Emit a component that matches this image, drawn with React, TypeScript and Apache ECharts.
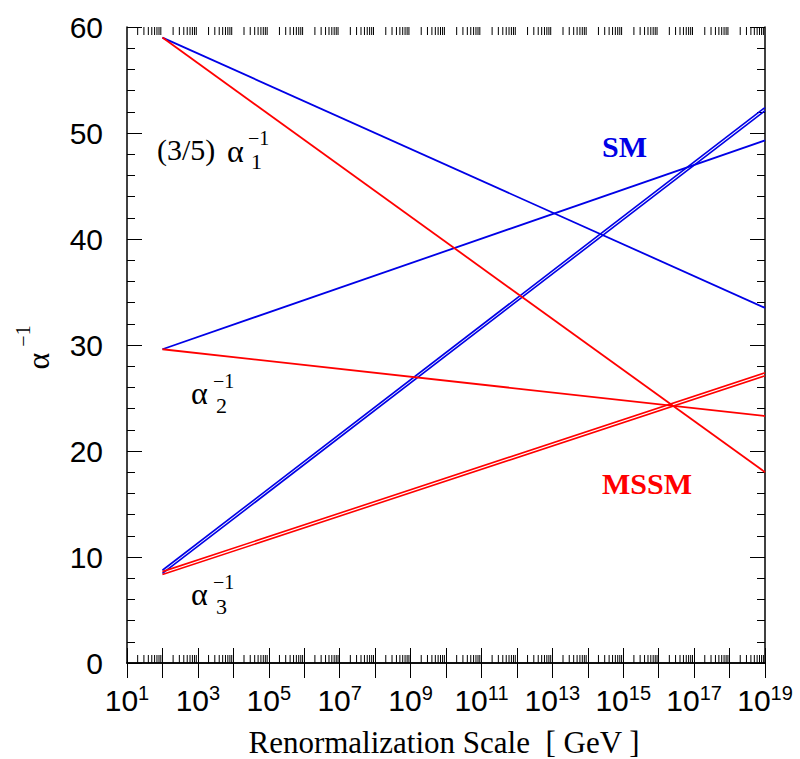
import React, { useEffect, useRef } from 'react';
import * as echarts from 'echarts';

// x values are log10(Renormalization Scale / GeV)
const xEnds = [2, 19];
const smAlpha1 = [59.0, 33.5];
const smAlpha2 = [29.6, 49.3];
const smAlpha3Upper = [8.75, 52.4];
const smAlpha3Lower = [8.45, 52.1];
const mssmAlpha1 = [59.0, 18.0];
const mssmAlpha2 = [29.6, 23.3];
const mssmAlpha3Upper = [8.62, 27.38];
const mssmAlpha3Lower = [8.34, 27.1];

const xMinExp = 1;
const xMaxExp = 19;
const xLabelExps = [1, 3, 5, 7, 9, 11, 13, 15, 17, 19];
const yMin = 0;
const yMax = 60;
const yStep = 10;
const mantissas = [2, 3, 4, 5, 6, 7, 8, 9];

const BLUE = '#0000e6';
const RED = '#ff0000';
const SANS = "'Liberation Sans', Arial, sans-serif";
const SERIF = "'Liberation Serif', 'Times New Roman', serif";

const minorTickPositions: number[] = [];
for (let d = xMinExp; d < xMaxExp; d++) {
  for (const m of mantissas) minorTickPositions.push(d + Math.log10(m));
}

const pairs = (ys: number[]) => xEnds.map((x, i) => [x, ys[i]]);

export default function App() {
  const ref = useRef<HTMLDivElement>(null);
  useEffect(() => {
    if (!ref.current) return;
    const chart = echarts.init(ref.current, null, { renderer: 'svg' });
    const lineSeries = (name: string, ys: number[], color: string, width = 1.8) => ({
      name,
      type: 'line',
      data: pairs(ys),
      showSymbol: false,
      symbol: 'none',
      silent: true,
      lineStyle: { color, width },
      xAxisIndex: 0,
      yAxisIndex: 0,
    });
    const xAxisBase = {
      type: 'value',
      min: xMinExp,
      max: xMaxExp,
      interval: 1,
      axisLine: { show: true, lineStyle: { color: '#000', width: 1.5 } },
      axisTick: { show: true, inside: true, length: 15, lineStyle: { color: '#000', width: 1 } },
      splitLine: { show: false },
    };
    const yAxisBase = {
      type: 'value',
      min: yMin,
      max: yMax,
      interval: yStep,
      axisLine: { show: true, lineStyle: { color: '#000', width: 1.5 } },
      axisTick: { show: true, inside: true, length: 15, lineStyle: { color: '#000', width: 1 } },
      minorTick: { show: true, splitNumber: 5, length: 8, lineStyle: { color: '#000', width: 1 } },
      splitLine: { show: false },
      minorSplitLine: { show: false },
    };
    const txt = (text: string, x: number, y: number, size: number, extra: any = {}) => ({
      type: 'text',
      x,
      y,
      style: { text, font: `${size}px ${SERIF}`, fill: '#000', textVerticalAlign: 'middle', lineHeight: size * 0.9, ...extra },
    });
    chart.setOption({
      animation: false,
      backgroundColor: '#fff',
      grid: { left: 127, right: 35, top: 27, bottom: 96, containLabel: false },
      xAxis: [
        {
          ...xAxisBase,
          position: 'bottom',
          axisLabel: {
            show: true,
            margin: 20,
            formatter: (v: number) => (xLabelExps.includes(Math.round(v)) ? `{b|10}{s|${Math.round(v)}}` : ''),
            rich: {
              b: { fontSize: 30, fontFamily: SANS, color: '#000', lineHeight: 34 },
              s: { fontSize: 20, fontFamily: SANS, color: '#000', lineHeight: 20, verticalAlign: 'top' },
            },
          },
        },
        { ...xAxisBase, position: 'top', axisLabel: { show: false } },
      ],
      yAxis: [
        {
          ...yAxisBase,
          position: 'left',
          axisLabel: { show: true, margin: 24, fontSize: 30, fontFamily: SANS, color: '#000' },
        },
        { ...yAxisBase, position: 'right', axisLabel: { show: false } },
      ],
      series: [
        lineSeries('SM α1', smAlpha1, BLUE),
        lineSeries('SM α2', smAlpha2, BLUE),
        lineSeries('SM α3 upper', smAlpha3Upper, BLUE, 1.6),
        lineSeries('SM α3 lower', smAlpha3Lower, BLUE, 1.6),
        lineSeries('MSSM α1', mssmAlpha1, RED),
        lineSeries('MSSM α2', mssmAlpha2, RED),
        lineSeries('MSSM α3 upper', mssmAlpha3Upper, RED, 1.6),
        lineSeries('MSSM α3 lower', mssmAlpha3Lower, RED, 1.6),
        {
          type: 'custom',
          silent: true,
          clip: false,
          xAxisIndex: 0,
          yAxisIndex: 0,
          data: minorTickPositions.map((v) => [v, yMin]),
          encode: { x: 0, y: 1 },
          renderItem: (_p: any, api: any) => {
            const x = api.value(0);
            const b = api.coord([x, yMin]);
            const t = api.coord([x, yMax]);
            return {
              type: 'group',
              children: [
                { type: 'line', shape: { x1: b[0], y1: b[1], x2: b[0], y2: b[1] - 8 }, style: { stroke: '#000', lineWidth: 1 } },
                { type: 'line', shape: { x1: t[0], y1: t[1], x2: t[0], y2: t[1] + 8 }, style: { stroke: '#000', lineWidth: 1 } },
              ],
            };
          },
        },
      ],
      graphic: [
        // axis titles
        {
          type: 'text',
          x: 444,
          y: 742,
          style: { text: 'Renormalization Scale  [ GeV ]', font: `31px ${SERIF}`, fill: '#000', textAlign: 'center', textVerticalAlign: 'middle' },
        },
        { type: 'text', x: 38, y: 361, rotation: Math.PI / 2, style: { text: 'α', font: `32px ${SERIF}`, fill: '#000', textAlign: 'center', textVerticalAlign: 'middle', lineHeight: 28 } },
        { type: 'text', x: 23, y: 336, rotation: Math.PI / 2, style: { text: '−1', font: `20px ${SERIF}`, fill: '#000', textAlign: 'center', textVerticalAlign: 'middle', lineHeight: 18 } },
        // (3/5) alpha_1^-1
        txt('(3/5)', 157, 149, 30),
        txt('α', 227, 151, 32),
        txt('−1', 248, 138, 20),
        txt('1', 251, 161, 22),
        // alpha_2^-1
        txt('α', 191, 393, 32),
        txt('−1', 213, 381, 20),
        txt('2', 216, 405, 22),
        // alpha_3^-1
        txt('α', 191, 594, 32),
        txt('−1', 213, 582, 20),
        txt('3', 216, 606, 22),
        // model labels
        { type: 'text', x: 602, y: 146, style: { text: 'SM', font: `bold 30px ${SERIF}`, fill: BLUE, textVerticalAlign: 'middle' } },
        { type: 'text', x: 602, y: 483, style: { text: 'MSSM', font: `bold 30px ${SERIF}`, fill: RED, textVerticalAlign: 'middle' } },
      ],
    });
    return () => chart.dispose();
  }, []);
  return <div ref={ref} style={{ position: 'absolute', left: 0, top: 0, width: 800, height: 759 }} />;
}
